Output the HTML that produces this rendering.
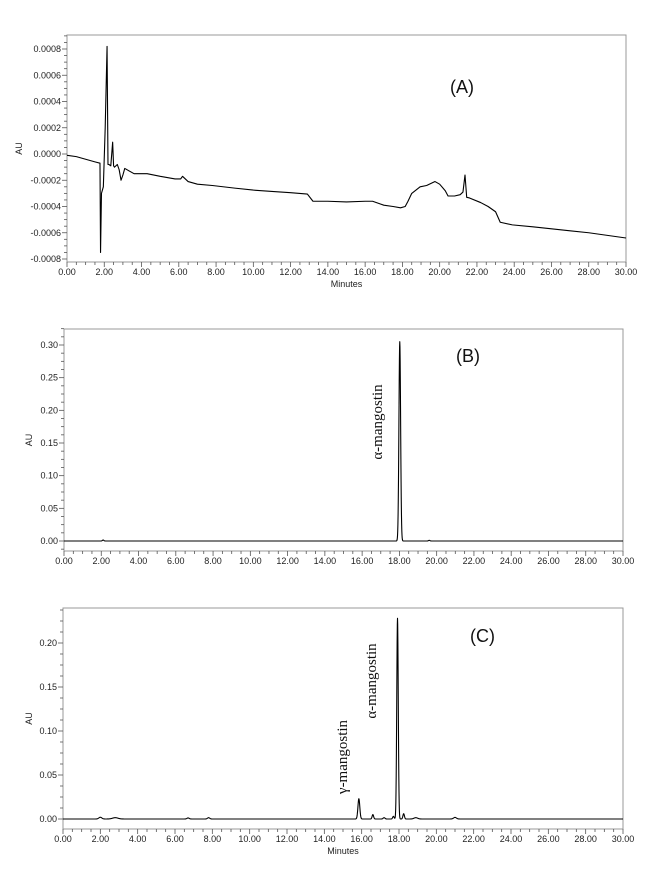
<!DOCTYPE html>
<html><head><meta charset="utf-8"><style>
body{margin:0;background:#fff;width:664px;height:880px;overflow:hidden}
svg{display:block}
text{font-family:"Liberation Sans",sans-serif}
text.serif{font-family:"Liberation Serif",serif}
</style></head><body>
<svg id="svg" width="664" height="880"></svg>
<script>
// Panel A trace: time (min) and absorbance (x1e-4 AU)
const aTimes=[0,0.5,1.0,1.5,1.77,1.8,1.85,1.95,2.05,2.15,2.2,2.25,2.35,2.45,2.5,2.55,2.7,2.8,2.9,3.0,3.1,3.6,4.3,5.0,5.8,6.1,6.2,6.5,7.0,7.8,9,10,11,12,12.9,13.2,14,15,16,16.4,16.8,17.0,17.5,17.9,18.15,18.3,18.5,18.95,19.3,19.75,20.0,20.3,20.45,20.8,21.1,21.25,21.36,21.45,21.6,22.2,22.6,23.0,23.25,23.9,25,26,27,28,29,30];
const aValues=[-0.1,-0.2,-0.4,-0.6,-0.7,-7.5,-3.0,-2.5,2.0,8.2,-0.8,-0.8,-0.9,0.9,-0.9,-1.0,-0.8,-1.2,-2.0,-1.6,-1.1,-1.5,-1.5,-1.7,-1.9,-1.9,-1.7,-2.1,-2.3,-2.4,-2.6,-2.75,-2.85,-2.95,-3.05,-3.6,-3.6,-3.65,-3.6,-3.6,-3.8,-3.9,-4.0,-4.1,-4.0,-3.6,-3.0,-2.5,-2.4,-2.1,-2.3,-2.8,-3.2,-3.2,-3.1,-2.9,-1.6,-3.3,-3.35,-3.7,-4.0,-4.4,-5.2,-5.4,-5.55,-5.7,-5.85,-6.0,-6.2,-6.4];
// Panel B peaks
const bPeakTimes=[2.1,18.02,19.6];
const bPeakHeights=[0.0015,0.305,0.001];
const bPeakWidths=[0.04,0.045,0.04];
// Panel C peaks
const cPeakTimes=[2.0,2.8,6.7,7.8,15.85,16.6,17.2,17.7,17.92,18.25,18.9,21.0];
const cPeakHeights=[0.002,0.0015,0.0012,0.0015,0.023,0.005,0.0015,0.003,0.228,0.006,0.0015,0.0018];
const cPeakWidths=[0.08,0.15,0.06,0.06,0.05,0.04,0.05,0.04,0.04,0.04,0.1,0.08];
const xTicks=["0.00","2.00","4.00","6.00","8.00","10.00","12.00","14.00","16.00","18.00","20.00","22.00","24.00","26.00","28.00","30.00"];
const aYTicks=["0.0008","0.0006","0.0004","0.0002","0.0000","-0.0002","-0.0004","-0.0006","-0.0008"];
const bYTicks=["0.30","0.25","0.20","0.15","0.10","0.05","0.00"];
const cYTicks=["0.20","0.15","0.10","0.05","0.00"];

const NS="http://www.w3.org/2000/svg";
const svg=document.getElementById('svg');
function el(tag,attrs,parent,txt){const e=document.createElementNS(NS,tag);for(const k in attrs)e.setAttribute(k,attrs[k]);if(txt!==undefined)e.textContent=txt;(parent||svg).appendChild(e);return e;}

function panel(cfg){
  const g=el('g',{});
  
  
  const X=t=>cfg.l+(t/30)*(cfg.r-cfg.l);
  const Y=v=>cfg.y0+(v-cfg.v0)*(cfg.y1-cfg.y0)/(cfg.v1-cfg.v0);
  const frame=el('rect',{x:cfg.l,y:cfg.t,width:cfg.r-cfg.l,height:cfg.b-cfg.t,fill:'none',stroke:'#999','stroke-width':1},g);
  
  
  for(let i=0;i<=60;i++){const t=i*0.5;const x=X(t);const major=i%4===0;
    el('line',{x1:x,x2:x,y1:cfg.b,y2:cfg.b+(major?5:3),stroke:'#555','stroke-width':0.8},g);}
  xTicks.forEach(s=>{const t=parseFloat(s);const tx=el('text',{x:X(t),y:cfg.b+13,'font-size':9,'text-anchor':'middle',fill:'#222'},g,s);
    });
  const step=cfg.step, minor=step/4;
  const vals=cfg.yTicks.map(parseFloat);
  const lo=Math.min(...vals)-step, hi=Math.max(...vals)+step;
  for(let v=lo;v<=hi+1e-12;v+=minor){const y=Y(v);if(y<cfg.t-0.5||y>cfg.b+0.5)continue;
    const major=vals.some(m=>Math.abs(m-v)<minor/10);
    el('line',{x1:cfg.l-(major?5:3),x2:cfg.l,y1:y,y2:y,stroke:'#555','stroke-width':0.8},g);}
  cfg.yTicks.forEach(s=>{const tx=el('text',{x:cfg.l-6,y:Y(parseFloat(s))+3,'font-size':9,'text-anchor':'end',fill:'#222'},g,s);
    });
  const au=el('text',{x:0,y:0,'font-size':9,'text-anchor':'middle',fill:'#222',transform:`translate(${cfg.auX},${(cfg.t+cfg.b)/2}) rotate(-90)`},g,'AU');
  
  if(cfg.minutes){const m=el('text',{x:(cfg.l+cfg.r)/2,y:cfg.b+25,'font-size':9,'text-anchor':'middle',fill:'#222'},g,'Minutes');
    }
  const lab=el('text',{x:cfg.lab[0],y:cfg.lab[1],'font-size':18,fill:'#111'},g,cfg.label);
  
  let pts=[];
  if(cfg.times){cfg.times.forEach((t,i)=>pts.push(X(t).toFixed(2)+','+Y(cfg.values[i]*1e-4).toFixed(2)));}
  else{for(let t=0;t<=30.0001;t+=0.01){let v=0;cfg.pt.forEach((c,i)=>{v+=cfg.ph[i]*Math.exp(-Math.pow((t-c)/cfg.pw[i],2)/2);});pts.push(X(t).toFixed(2)+','+Y(v).toFixed(2));}}
  const tr=el('polyline',{points:pts.join(' '),fill:'none',stroke:'#000','stroke-width':1.1,'stroke-linejoin':'round'},g);
  
  (cfg.ann||[]).forEach(a=>{const tx=el('text',{x:0,y:0,'class':'serif','font-size':15,'text-anchor':'middle',fill:'#111',transform:`translate(${a[0]},${a[1]}) rotate(-90)`},g,a[2]);
    });
}
panel({name:'panel-a',l:67,r:626,t:35,b:262,v0:0,y0:154,v1:0.0008,y1:49,step:0.0002,yTicks:aYTicks,auX:22,minutes:true,label:'(A)',lab:[450,93],times:aTimes,values:aValues});
panel({name:'panel-b',l:64,r:623,t:329,b:551,v0:0,y0:541,v1:0.30,y1:345,step:0.05,yTicks:bYTicks,auX:32,minutes:false,label:'(B)',lab:[456,362],pt:bPeakTimes,ph:bPeakHeights,pw:bPeakWidths,ann:[[382,422,'α-mangostin']]});
panel({name:'panel-c',l:63,r:623,t:608,b:829,v0:0,y0:819,v1:0.20,y1:643,step:0.05,yTicks:cYTicks,auX:32,minutes:true,label:'(C)',lab:[470,642],pt:cPeakTimes,ph:cPeakHeights,pw:cPeakWidths,ann:[[376,681,'α-mangostin'],[347,757,'γ-mangostin']]});
</script>
</body></html>
